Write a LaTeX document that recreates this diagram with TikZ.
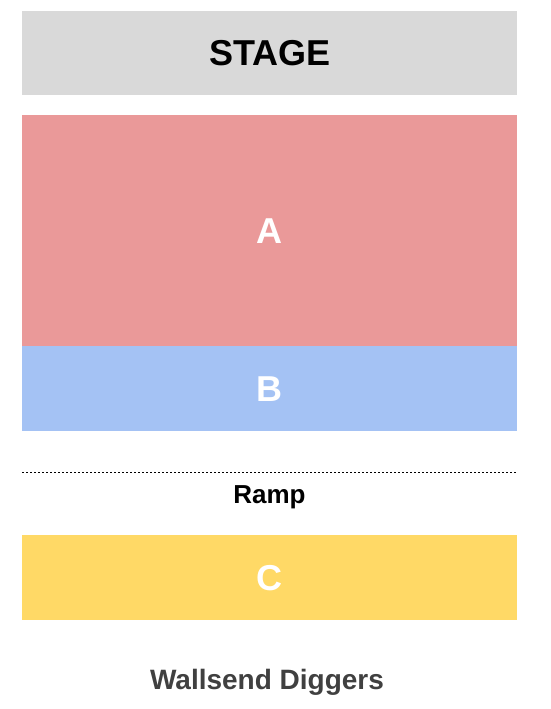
\documentclass[tikz,border=0pt]{standalone}
\usepackage{fontspec}
\setmainfont{Liberation Sans}
\definecolor{stagegray}{HTML}{D9D9D9}
\definecolor{sectred}{HTML}{EA9999}
\definecolor{sectblue}{HTML}{A4C2F4}
\definecolor{sectyellow}{HTML}{FFD966}
\definecolor{titlegray}{HTML}{404040}
\tikzset{
  block/.style={anchor=north west, inner sep=0pt, minimum width=495pt, font=\bfseries\fontsize{36}{36}\selectfont},
  section/.style={block, text=white},
}
\begin{document}
\begin{tikzpicture}[x=1pt, y=-1pt]
                \useasboundingbox (0,0) rectangle (550,709);
                
                % Drawing block STAGE
                \node (stage) [block, fill=stagegray, minimum height=84pt, text=black] at (22,11) { STAGE };%
                
                % Drawing section A
                \node (secA) [section, fill=sectred, minimum height=231pt] at (22,115) { A };%
                
                % Drawing section B
                \node (secB) [section, fill=sectblue, minimum height=85pt] at (22,346) { B };%
                
                % Drawing line ramp
                \coordinate (rampL) at (22,472);
                \coordinate (rampR) at (517,472);
                \draw [line width=1pt, dash pattern=on 2pt off 2pt] (rampL) -- (rampR);%
                
                % Marking ramp
                \node (ramp) [font=\bfseries\fontsize{26}{26}\selectfont] at (269.5,497) { Ramp };%
                
                % Drawing section C
                \node (secC) [section, fill=sectyellow, minimum height=85pt] at (22,535) { C };%
                
                % Marking title
                \node (title) [text=titlegray, font=\bfseries\fontsize{28}{28}\selectfont] at (267,682) { Wallsend Diggers };%
\end{tikzpicture}
\end{document}
